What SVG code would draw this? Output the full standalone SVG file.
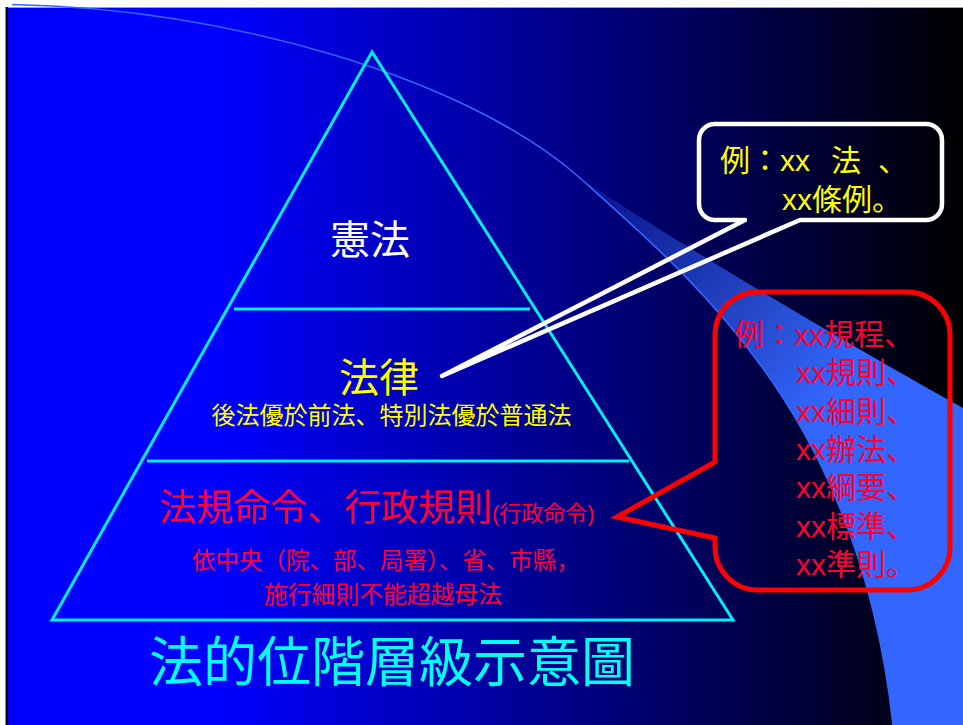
<svg xmlns="http://www.w3.org/2000/svg" width="963" height="725" viewBox="0 0 963 725">
  <defs>
    <linearGradient id="bg" gradientUnits="userSpaceOnUse" x1="8" y1="0" x2="963" y2="0">
      <stop offset="0" stop-color="#0000ff"/>
      <stop offset="0.22" stop-color="#0000ff"/>
      <stop offset="1" stop-color="#000000"/>
    </linearGradient>
    <linearGradient id="cres" gradientUnits="userSpaceOnUse" x1="580" y1="178" x2="850" y2="370">
      <stop offset="0" stop-color="#3366ff" stop-opacity="0.15"/>
      <stop offset="1" stop-color="#3366ff" stop-opacity="1"/>
    </linearGradient>
    <style>
      text { font-family: "Liberation Sans", "Noto Sans CJK JP", sans-serif; }
      .pyr { fill: none; stroke: #00eeff; stroke-width: 3; }
      .yel { fill: #ffff00; }
      .red { fill: #ff0033; }
    </style>
  </defs>

  <g id="background">
    <rect x="0" y="0" width="963" height="725" fill="#ffffff"/>
    <rect x="8" y="8" width="955" height="717" fill="url(#bg)"/>
    <line x1="6" y1="7.5" x2="963" y2="7.5" stroke="#a0a0a0" stroke-width="1"/>
    <rect x="5.5" y="7" width="2.5" height="718" fill="#000000"/>
    <path d="M580,178 C680,245 850,345 963,408 L963,725 L893,725 C860,420 701,286 580,178 Z" fill="url(#cres)"/>
    <path d="M12,4.5 C230,8 470,80 580,178 C701,286 860,420 893,725" fill="none" stroke="#3366ff" stroke-width="1.6"/>
  </g>

  <g id="pyramid">
    <polygon class="pyr" points="372,52 52,620 733,620"/>
    <line class="pyr" x1="234" y1="309" x2="530" y2="309"/>
    <line class="pyr" x1="147" y1="461" x2="629" y2="461"/>
  </g>

  <g id="node-constitution">
    <text x="370" y="254" font-size="40" fill="#ffffff" text-anchor="middle">憲法</text>
  </g>

  <g id="node-law">
    <text x="379" y="392" font-size="40" class="yel" text-anchor="middle">法律</text>
    <text x="391.5" y="424" font-size="24" class="yel" text-anchor="middle">後法優於前法、特別法優於普通法</text>
  </g>

  <g id="node-regulation">
    <text x="159" y="520.5" font-size="37" class="red">法規命令、行政規則<tspan font-size="22">(行政命令)</tspan></text>
    <text x="192" y="569" font-size="23.5" class="red">依中央（院、部、局署）、省、市縣，</text>
    <text x="264" y="603" font-size="23.8" class="red">施行細則不能超越母法</text>
  </g>

  <g id="title">
    <text x="149" y="682" font-size="54" fill="#00ffff">法的位階層級示意圖</text>
  </g>

  <g id="connectors">
    <path id="callout-law" d="M699,140 V204 A16,16 0 0 0 715,220 H745 L442,376 L800,220 H926 A16,16 0 0 0 942,204 V140 A16,16 0 0 0 926,124 H715 A16,16 0 0 0 699,140 Z" fill="none" stroke="#ffffff" stroke-width="4.5" stroke-linejoin="round"/>
    <path id="callout-reg" d="M758,292 H907 A43,43 0 0 1 950,335 V547 A43,43 0 0 1 907,590 H758 A43,43 0 0 1 715,547 V538 L617,517 L715,462 V335 A43,43 0 0 1 758,292 Z" fill="none" stroke="#ff0000" stroke-width="5" stroke-linejoin="miter"/>
  </g>

  <g id="node-law-examples">
    <text y="171" font-size="30" class="yel"><tspan x="720">例：xx</tspan><tspan x="831">法</tspan><tspan x="878">、</tspan></text>
    <text x="782" y="210" font-size="30" class="yel">xx條例。</text>
  </g>

  <g id="node-reg-examples" class="red" font-size="30">
    <text x="734" y="345">例：xx規程、</text>
    <text x="796" y="383.3">xx規則、</text>
    <text x="796" y="421.7">xx細則、</text>
    <text x="796" y="460">xx辦法、</text>
    <text x="796" y="498.3">xx綱要、</text>
    <text x="796" y="536.7">xx標準、</text>
    <text x="796" y="575">xx準則。</text>
  </g>
</svg>
